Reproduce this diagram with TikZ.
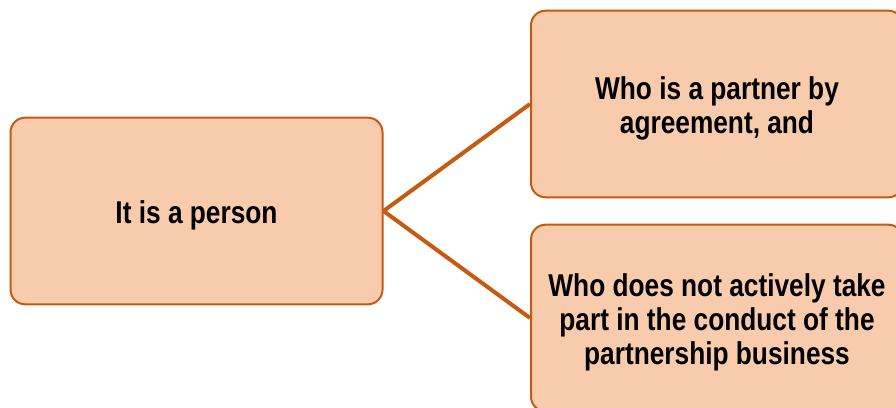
\documentclass[tikz,border=0pt]{standalone}
\usepackage{fontspec}
\usepackage{graphicx}
\setmainfont{Liberation Sans}
\usetikzlibrary{positioning}
\definecolor{cardfill}{HTML}{F8CBAD}
\definecolor{cardline}{HTML}{C55A11}
\newcommand{\tallText}[1]{\raisebox{-4pt}[\height][\depth]{\scalebox{1}[1.2]{\begin{tabular}{@{}c@{}}#1\end{tabular}}}}

\begin{document}
\begin{tikzpicture}[x=0.75pt,y=-0.75pt,
  card/.style={draw=cardline,fill=cardfill,line width=1.5pt,rounded corners=11pt,
    minimum width=279pt,minimum height=140pt,align=center,
    font=\bfseries\fontsize{19.7}{21.3}\selectfont},
  link/.style={draw=cardline,line width=3pt}]
\useasboundingbox (0,0) rectangle (896,407);
\clip (0,0) rectangle (896,407);
\path
(196.5,211) node[card](person){\tallText{It is a person}}
(717,104) node[card](partner){\tallText{Who is a partner by\\agreement, and}}
(717,318) node[card](sleeping){\tallText{Who does not actively take\\part in the conduct of the\\partnership business}};
\path[link] (person.east) -- (partner.west);
\path[link] (person.east) -- (sleeping.west);
\end{tikzpicture}
\end{document}
